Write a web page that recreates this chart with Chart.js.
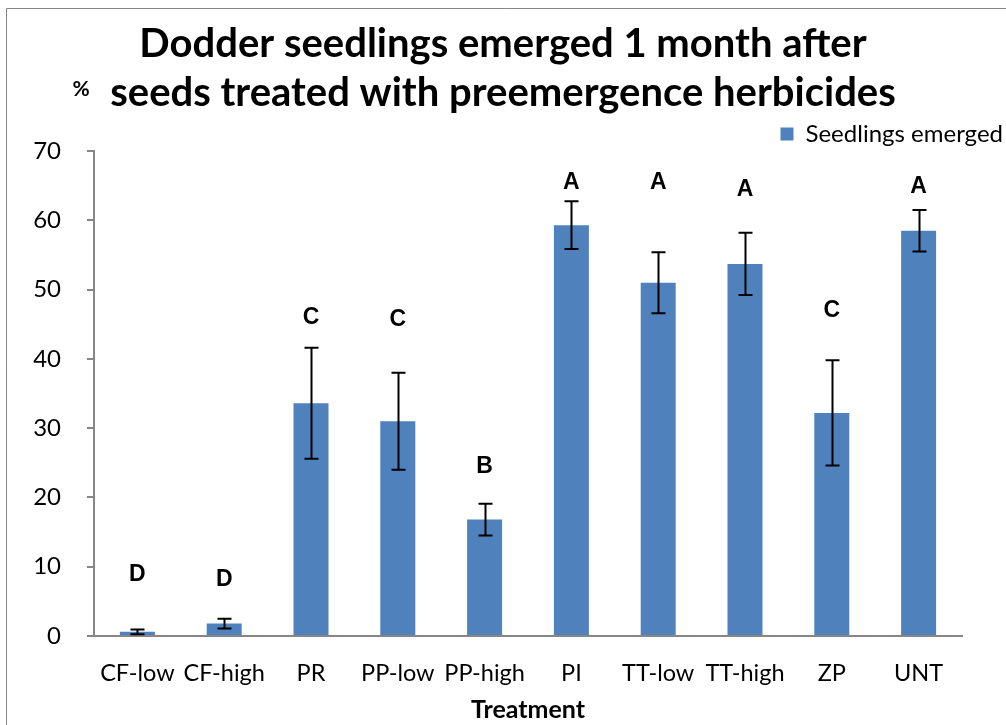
<!DOCTYPE html>
<html>
<head>
<meta charset="utf-8">
<script src="https://cdn.jsdelivr.net/npm/chart.js@4.4.1/dist/chart.umd.min.js"></script>
<style>
  html, body { margin: 0; padding: 0; background: #ffffff; }
  #wrap { width: 1006px; height: 725px; position: relative; }
</style>
</head>
<body>
<div id="wrap"><canvas id="c" width="1006" height="725"></canvas></div>
<script>
// ---- data ----
const categories = ['CF-low', 'CF-high', 'PR', 'PP-low', 'PP-high', 'PI', 'TT-low', 'TT-high', 'ZP', 'UNT'];
const seedlingsEmerged = [0.6, 1.8, 33.6, 31.0, 16.8, 59.3, 51.0, 53.7, 32.2, 58.5];
const errorMargins = [0.35, 0.7, 8.0, 7.0, 2.3, 3.45, 4.4, 4.5, 7.6, 3.0];
const groupLetters = ['D', 'D', 'C', 'C', 'B', 'A', 'A', 'A', 'C', 'A'];
const letterHeights = [8.8, 8.1, 45.9, 45.6, 24.5, 65.4, 65.4, 64.4, 47.0, 64.9];
const yTicks = [0, 10, 20, 30, 40, 50, 60, 70];

const TITLE_FONT = "Lato";
const BODY_FONT = "Lato";
const axisGray = '#868686';

const decorPlugin = {
  id: 'decor',
  beforeDraw(chart) {
    const ctx = chart.ctx;
    ctx.save();
    ctx.fillStyle = '#ffffff';
    ctx.fillRect(0, 0, chart.width, chart.height);
    ctx.strokeStyle = axisGray;
    ctx.lineWidth = 1;
    ctx.beginPath();
    ctx.moveTo(6.5, chart.height);
    ctx.lineTo(6.5, 8.5);
    ctx.lineTo(chart.width, 8.5);
    ctx.stroke();
    ctx.restore();
  },
  afterDatasetsDraw(chart) {
    const ctx = chart.ctx;
    const y = chart.scales.y;
    const meta = chart.getDatasetMeta(0);
    ctx.save();
    ctx.strokeStyle = '#000000';
    ctx.lineWidth = 2;
    meta.data.forEach((bar, i) => {
      const v = seedlingsEmerged[i], e = errorMargins[i];
      const cx = Math.round(bar.x) + 0.5;
      const yt = y.getPixelForValue(v + e);
      const yb = y.getPixelForValue(v - e);
      ctx.beginPath();
      ctx.moveTo(cx, yt); ctx.lineTo(cx, yb);
      ctx.moveTo(cx - 7, yt); ctx.lineTo(cx + 7, yt);
      ctx.moveTo(cx - 7, yb); ctx.lineTo(cx + 7, yb);
      ctx.stroke();
    });
    ctx.fillStyle = '#000000';
    ctx.font = "bold 23px 'Liberation Sans', Arial, sans-serif";
    ctx.textAlign = 'center';
    ctx.textBaseline = 'middle';
    meta.data.forEach((bar, i) => {
      ctx.fillText(groupLetters[i], bar.x, y.getPixelForValue(letterHeights[i]));
    });
    ctx.font = "bold 21px '" + BODY_FONT + "', sans-serif";
    ctx.textAlign = 'center';
    ctx.fillText('%', chart.chartArea.left - 13, chart.chartArea.top - 62);
    ctx.restore();
  }
};

new Chart(document.getElementById('c'), {
  type: 'bar',
  data: {
    labels: categories,
    datasets: [{
      label: 'Seedlings emerged',
      data: seedlingsEmerged,
      backgroundColor: '#4F81BD',
      borderColor: '#4F81BD',
      borderWidth: 0,
      categoryPercentage: 1.0,
      barPercentage: 0.403
    }]
  },
  options: {
    responsive: false,
    animation: false,
    events: [],
    layout: { padding: { top: 0, left: 0, right: 0, bottom: 0 } },
    plugins: {
      title: {
        display: true,
        text: ['Dodder seedlings emerged 1 month after', 'seeds treated with preemergence herbicides'],
        color: '#000000',
        font: { family: TITLE_FONT, size: 40, weight: 'bold', lineHeight: 1.225 },
        padding: { top: 20, bottom: 1 }
      },
      legend: {
        display: true,
        position: 'top',
        align: 'end',
        maxHeight: 32,
        labels: {
          color: '#000000',
          font: { family: BODY_FONT, size: 24, lineHeight: 1 },
          boxWidth: 13,
          boxHeight: 13,
          padding: 3
        }
      },
      tooltip: { enabled: false }
    },
    scales: {
      x: {
        grid: { display: true, drawOnChartArea: false, drawTicks: false },
        border: { display: true, color: axisGray, width: 2 },
        ticks: { color: '#000000', font: { family: BODY_FONT, size: 23.5 }, padding: 23, maxRotation: 0, autoSkip: false },
        title: { display: true, text: 'Treatment', color: '#000000', font: { family: BODY_FONT, size: 25, weight: 'bold' }, padding: { top: 4, bottom: 0 } },
        afterFit(s) { s.height = 89; }
      },
      y: {
        min: 0, max: 70,
        afterBuildTicks(s) { s.ticks = yTicks.map(v => ({ value: v })); },
        grid: { display: true, drawOnChartArea: false, drawTicks: true, tickLength: 7, color: axisGray, lineWidth: 2 },
        border: { display: true, color: axisGray, width: 2 },
        ticks: { color: '#000000', font: { family: BODY_FONT, size: 24 }, padding: 26 },
        afterFit(s) { s.width = 94; }
      },
      y2: {
        position: 'right',
        display: true,
        grid: { display: false },
        border: { display: false },
        ticks: { display: false },
        afterFit(s) { s.width = 44; }
      }
    }
  },
  plugins: [decorPlugin]
});
</script>
</body>
</html>
